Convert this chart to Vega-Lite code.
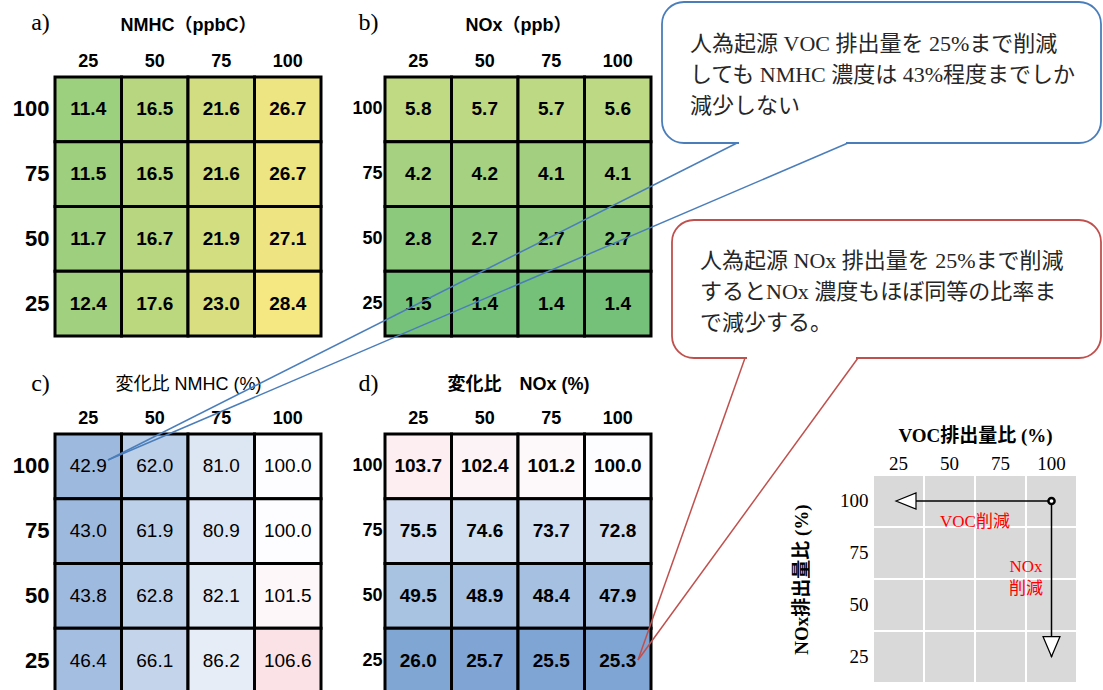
{
  "$schema": "https://vega.github.io/schema/vega-lite/v6.json",
  "background": "white",
  "padding": {"left": 12, "top": 1, "right": 0, "bottom": 0},
  "config": {
    "view": {"stroke": null},
    "axis": {"grid": false, "labelColor": "black", "titleColor": "black", "labelFont": "Liberation Sans, Noto Sans CJK JP", "titleFont": "Liberation Sans, Noto Sans CJK JP", "ticks": false, "tickSize": 0, "domain": false, "labelAngle": 0}
  },
  "datasets": {
    "cells": [
      {"panel": "a", "voc": 25, "nox": 100, "value": 11.4}, {"panel": "a", "voc": 50, "nox": 100, "value": 16.5}, {"panel": "a", "voc": 75, "nox": 100, "value": 21.6}, {"panel": "a", "voc": 100, "nox": 100, "value": 26.7},
      {"panel": "a", "voc": 25, "nox": 75, "value": 11.5}, {"panel": "a", "voc": 50, "nox": 75, "value": 16.5}, {"panel": "a", "voc": 75, "nox": 75, "value": 21.6}, {"panel": "a", "voc": 100, "nox": 75, "value": 26.7},
      {"panel": "a", "voc": 25, "nox": 50, "value": 11.7}, {"panel": "a", "voc": 50, "nox": 50, "value": 16.7}, {"panel": "a", "voc": 75, "nox": 50, "value": 21.9}, {"panel": "a", "voc": 100, "nox": 50, "value": 27.1},
      {"panel": "a", "voc": 25, "nox": 25, "value": 12.4}, {"panel": "a", "voc": 50, "nox": 25, "value": 17.6}, {"panel": "a", "voc": 75, "nox": 25, "value": 23.0}, {"panel": "a", "voc": 100, "nox": 25, "value": 28.4},
      {"panel": "b", "voc": 25, "nox": 100, "value": 5.8}, {"panel": "b", "voc": 50, "nox": 100, "value": 5.7}, {"panel": "b", "voc": 75, "nox": 100, "value": 5.7}, {"panel": "b", "voc": 100, "nox": 100, "value": 5.6},
      {"panel": "b", "voc": 25, "nox": 75, "value": 4.2}, {"panel": "b", "voc": 50, "nox": 75, "value": 4.2}, {"panel": "b", "voc": 75, "nox": 75, "value": 4.1}, {"panel": "b", "voc": 100, "nox": 75, "value": 4.1},
      {"panel": "b", "voc": 25, "nox": 50, "value": 2.8}, {"panel": "b", "voc": 50, "nox": 50, "value": 2.7}, {"panel": "b", "voc": 75, "nox": 50, "value": 2.7}, {"panel": "b", "voc": 100, "nox": 50, "value": 2.7},
      {"panel": "b", "voc": 25, "nox": 25, "value": 1.5}, {"panel": "b", "voc": 50, "nox": 25, "value": 1.4}, {"panel": "b", "voc": 75, "nox": 25, "value": 1.4}, {"panel": "b", "voc": 100, "nox": 25, "value": 1.4},
      {"panel": "c", "voc": 25, "nox": 100, "value": 42.9}, {"panel": "c", "voc": 50, "nox": 100, "value": 62.0}, {"panel": "c", "voc": 75, "nox": 100, "value": 81.0}, {"panel": "c", "voc": 100, "nox": 100, "value": 100.0},
      {"panel": "c", "voc": 25, "nox": 75, "value": 43.0}, {"panel": "c", "voc": 50, "nox": 75, "value": 61.9}, {"panel": "c", "voc": 75, "nox": 75, "value": 80.9}, {"panel": "c", "voc": 100, "nox": 75, "value": 100.0},
      {"panel": "c", "voc": 25, "nox": 50, "value": 43.8}, {"panel": "c", "voc": 50, "nox": 50, "value": 62.8}, {"panel": "c", "voc": 75, "nox": 50, "value": 82.1}, {"panel": "c", "voc": 100, "nox": 50, "value": 101.5},
      {"panel": "c", "voc": 25, "nox": 25, "value": 46.4}, {"panel": "c", "voc": 50, "nox": 25, "value": 66.1}, {"panel": "c", "voc": 75, "nox": 25, "value": 86.2}, {"panel": "c", "voc": 100, "nox": 25, "value": 106.6},
      {"panel": "d", "voc": 25, "nox": 100, "value": 103.7}, {"panel": "d", "voc": 50, "nox": 100, "value": 102.4}, {"panel": "d", "voc": 75, "nox": 100, "value": 101.2}, {"panel": "d", "voc": 100, "nox": 100, "value": 100.0},
      {"panel": "d", "voc": 25, "nox": 75, "value": 75.5}, {"panel": "d", "voc": 50, "nox": 75, "value": 74.6}, {"panel": "d", "voc": 75, "nox": 75, "value": 73.7}, {"panel": "d", "voc": 100, "nox": 75, "value": 72.8},
      {"panel": "d", "voc": 25, "nox": 50, "value": 49.5}, {"panel": "d", "voc": 50, "nox": 50, "value": 48.9}, {"panel": "d", "voc": 75, "nox": 50, "value": 48.4}, {"panel": "d", "voc": 100, "nox": 50, "value": 47.9},
      {"panel": "d", "voc": 25, "nox": 25, "value": 26.0}, {"panel": "d", "voc": 50, "nox": 25, "value": 25.7}, {"panel": "d", "voc": 75, "nox": 25, "value": 25.5}, {"panel": "d", "voc": 100, "nox": 25, "value": 25.3}
    ],
    "arrows": [
      {"name": "VOC", "voc": 100, "nox": 100, "voc2": 25, "nox2": 100},
      {"name": "NOx", "voc": 100, "nox": 100, "voc2": 100, "nox2": 25}
    ],
    "diagLabels": [
      {"label": "VOC削減", "voc": 75, "nox": 100},
      {"label": "NOx\n削減", "voc": 100, "nox": 75}
    ],
    "bubbles": [
      {"id": "voc", "x0": 662, "x1": 1101, "y0": 2, "y1": 143, "g0": 739, "g1": 846, "tx": 690, "ty": 34, "text": "人為起源 VOC 排出量を 25%まで削減\nしても NMHC 濃度は 43%程度までしか\n減少しない"},
      {"id": "nox", "x0": 672, "x1": 1101, "y0": 220, "y1": 358, "g0": 747, "g1": 856, "tx": 700, "ty": 251, "text": "人為起源 NOx 排出量を 25%まで削減\nするとNOx 濃度もほぼ同等の比率ま\nで減少する。"}
    ],
    "tails": [
      {"id": "voc", "xa": 737, "ya": 143, "xb": 108, "yb": 460},
      {"id": "voc", "xa": 848, "ya": 143, "xb": 108, "yb": 460},
      {"id": "nox", "xa": 745, "ya": 358, "xb": 638, "yb": 660},
      {"id": "nox", "xa": 858, "ya": 358, "xb": 638, "yb": 660}
    ]
  },
  "bounds": "flush",
  "align": "each",
  "columns": 3,
  "spacing": {"row": 98, "column": 64},
  "resolve": {"scale": {"fill": "independent", "stroke": "independent"}},
  "concat": [
    {
      "width": 266, "height": 259,
      "data": {"name": "cells"},
      "transform": [{"filter": {"field": "panel", "equal": "a"}}],
      "encoding": {
        "x": {"field": "voc", "type": "ordinal", "scale": {"paddingInner": 0, "paddingOuter": 0}, "axis": {"orient": "top", "title": "NMHC（ppbC）", "labelFontSize": 18, "labelFontWeight": "bold", "labelPadding": 7, "titleFontSize": 18, "titleFontWeight": "bold", "titlePadding": 18}},
        "y": {"field": "nox", "type": "ordinal", "sort": "descending", "scale": {"paddingInner": 0, "paddingOuter": 0}, "axis": {"title": "a)", "titleAngle": 0, "titleX": -15, "titleY": -55, "titleAlign": "center", "titleBaseline": "middle", "titleFont": "Liberation Serif", "titleFontSize": 24, "titleFontWeight": "normal", "labelFontSize": 22, "labelFontWeight": "bold", "labelPadding": 6}}
      },
      "layer": [
        {"mark": {"type": "rect", "stroke": "black", "strokeWidth": 3}, "encoding": {"fill": {"field": "value", "type": "quantitative", "scale": {"domain": [11.4, 28.4], "range": ["#9ccf7e", "#f5e782"], "interpolate": "rgb"}, "legend": null}}},
        {"mark": {"type": "text", "fontSize": 19, "fontWeight": "bold", "font": "Liberation Sans", "color": "black"}, "encoding": {"text": {"field": "value", "type": "quantitative", "format": ".1f"}}}
      ]
    },
    {
      "width": 424, "height": 259,
      "data": {"name": "cells"},
      "transform": [{"filter": {"field": "panel", "equal": "b"}}],
      "encoding": {
        "x": {"field": "voc", "type": "ordinal", "scale": {"paddingInner": 0, "paddingOuter": 0, "rangeMax": 266}, "axis": {"orient": "top", "title": "NOx（ppb）", "labelFontSize": 18, "labelFontWeight": "bold", "labelPadding": 7, "titleFontSize": 18, "titleFontWeight": "bold", "titlePadding": 18}},
        "y": {"field": "nox", "type": "ordinal", "sort": "descending", "scale": {"paddingInner": 0, "paddingOuter": 0}, "axis": {"title": "b)", "titleAngle": 0, "titleX": -17, "titleY": -55, "titleAlign": "center", "titleBaseline": "middle", "titleFont": "Liberation Serif", "titleFontSize": 24, "titleFontWeight": "normal", "labelFontSize": 18, "labelFontWeight": "bold", "labelPadding": 3}}
      },
      "layer": [
        {"mark": {"type": "rect", "stroke": "black", "strokeWidth": 3}, "encoding": {"fill": {"field": "value", "type": "quantitative", "scale": {"domain": [1.4, 5.8], "range": ["#75c17a", "#c0da84"], "interpolate": "rgb"}, "legend": null}}},
        {"mark": {"type": "text", "fontSize": 19, "fontWeight": "bold", "font": "Liberation Sans", "color": "black"}, "encoding": {"text": {"field": "value", "type": "quantitative", "format": ".1f"}}}
      ]
    },
    {
      "width": 204, "height": 259,
      "data": {"values": []},
      "mark": {"type": "point", "opacity": 0}
    },
    {
      "width": 266, "height": 259,
      "data": {"name": "cells"},
      "transform": [{"filter": {"field": "panel", "equal": "c"}}],
      "encoding": {
        "x": {"field": "voc", "type": "ordinal", "scale": {"paddingInner": 0, "paddingOuter": 0}, "axis": {"orient": "top", "title": "変化比 NMHC (%)", "labelFontSize": 18, "labelFontWeight": "bold", "labelPadding": 7, "titleFontSize": 18, "titleFontWeight": "normal", "titlePadding": 16}},
        "y": {"field": "nox", "type": "ordinal", "sort": "descending", "scale": {"paddingInner": 0, "paddingOuter": 0}, "axis": {"title": "c)", "titleAngle": 0, "titleX": -15, "titleY": -51, "titleAlign": "center", "titleBaseline": "middle", "titleFont": "Liberation Serif", "titleFontSize": 24, "titleFontWeight": "normal", "labelFontSize": 22, "labelFontWeight": "bold", "labelPadding": 6}}
      },
      "layer": [
        {"mark": {"type": "rect", "stroke": "black", "strokeWidth": 3}, "encoding": {"fill": {"field": "value", "type": "quantitative", "scale": {"domain": [25.3, 100, 106.6], "range": ["#7fa5d4", "#fdfdff", "#fbe2e6"], "interpolate": "rgb"}, "legend": null}}},
        {"mark": {"type": "text", "fontSize": 19, "fontWeight": "normal", "font": "Liberation Sans", "color": "black"}, "encoding": {"text": {"field": "value", "type": "quantitative", "format": ".1f"}}}
      ]
    },
    {
      "width": 424, "height": 259,
      "data": {"name": "cells"},
      "transform": [{"filter": {"field": "panel", "equal": "d"}}],
      "encoding": {
        "x": {"field": "voc", "type": "ordinal", "scale": {"paddingInner": 0, "paddingOuter": 0, "rangeMax": 266}, "axis": {"orient": "top", "title": "変化比　NOx (%)", "labelFontSize": 18, "labelFontWeight": "bold", "labelPadding": 7, "titleFontSize": 18, "titleFontWeight": "bold", "titlePadding": 16}},
        "y": {"field": "nox", "type": "ordinal", "sort": "descending", "scale": {"paddingInner": 0, "paddingOuter": 0}, "axis": {"title": "d)", "titleAngle": 0, "titleX": -17, "titleY": -51, "titleAlign": "center", "titleBaseline": "middle", "titleFont": "Liberation Serif", "titleFontSize": 24, "titleFontWeight": "normal", "labelFontSize": 18, "labelFontWeight": "bold", "labelPadding": 3}}
      },
      "layer": [
        {"mark": {"type": "rect", "stroke": "black", "strokeWidth": 3}, "encoding": {"fill": {"field": "value", "type": "quantitative", "scale": {"domain": [25.3, 100, 106.6], "range": ["#7fa5d4", "#fdfdff", "#fbe2e6"], "interpolate": "rgb"}, "legend": null}}},
        {"mark": {"type": "text", "fontSize": 19, "fontWeight": "bold", "font": "Liberation Sans", "color": "black"}, "encoding": {"text": {"field": "value", "type": "quantitative", "format": ".1f"}}}
      ]
    },
    {
      "width": 204, "height": 249,
      "resolve": {"scale": {"x": "independent", "y": "independent"}, "axis": {"x": "independent", "y": "independent"}},
      "layer": [
        {
          "encoding": {
            "x": {"field": "voc", "type": "ordinal", "scale": {"domain": [25, 50, 75, 100], "paddingInner": 0, "paddingOuter": 0}, "axis": {"orient": "top", "offset": -41, "title": "VOC排出量比 (%)", "labelFont": "Liberation Serif", "labelFontSize": 19, "labelPadding": 2, "titleFont": "Liberation Serif, Noto Sans CJK JP", "titleFontSize": 19, "titleFontWeight": "bold", "titlePadding": 9}},
            "y": {"field": "nox", "type": "ordinal", "scale": {"domain": [100, 75, 50, 25], "paddingInner": 0, "paddingOuter": 0, "rangeMin": 41}, "axis": {"orient": "left", "title": "NOx排出量比 (%)", "labelFont": "Liberation Serif", "labelFontSize": 19, "labelPadding": 5, "titleFont": "Liberation Serif, Noto Sans CJK JP", "titleFontSize": 19, "titleFontWeight": "bold", "titlePadding": 28}}
          },
          "layer": [
            {
              "data": {"name": "cells"},
              "transform": [{"filter": {"field": "panel", "equal": "a"}}],
              "mark": {"type": "rect", "fill": "#d9d9d9", "stroke": "white", "strokeWidth": 2}
            },
            {
              "data": {"name": "arrows"},
              "mark": {"type": "rule", "color": "black", "strokeWidth": 1.5},
              "encoding": {"x2": {"field": "voc2"}, "y2": {"field": "nox2"}}
            },
            {
              "data": {"name": "arrows"},
              "transform": [{"filter": {"field": "name", "equal": "VOC"}}],
              "mark": {"type": "point", "shape": "M -1 0 L 1 -0.8 L 1 0.8 Z", "size": 400, "filled": true, "fill": "white", "stroke": "black", "strokeWidth": 1.2, "opacity": 1},
              "encoding": {"x": {"field": "voc2", "type": "ordinal", "bandPosition": 0.647}, "y": {"field": "nox2", "type": "ordinal"}}
            },
            {
              "data": {"name": "arrows"},
              "transform": [{"filter": {"field": "name", "equal": "NOx"}}],
              "mark": {"type": "point", "shape": "M 0 1 L -0.85 -1 L 0.85 -1 Z", "size": 400, "filled": true, "fill": "white", "stroke": "black", "strokeWidth": 1.2, "opacity": 1},
              "encoding": {"x": {"field": "voc2", "type": "ordinal"}, "y": {"field": "nox2", "type": "ordinal", "bandPosition": 0.3}}
            },
            {
              "data": {"name": "arrows"},
              "transform": [{"filter": {"field": "name", "equal": "VOC"}}],
              "mark": {"type": "point", "shape": "circle", "size": 38, "filled": true, "fill": "white", "stroke": "black", "strokeWidth": 2.5, "opacity": 1}
            },
            {
              "data": {"name": "diagLabels"},
              "transform": [{"filter": {"field": "voc", "equal": 75}}],
              "mark": {"type": "text", "align": "center", "baseline": "alphabetic", "font": "Liberation Serif, Noto Sans CJK JP", "fontSize": 17, "color": "#ff0000"},
              "encoding": {"x": {"field": "voc", "type": "ordinal", "bandPosition": 0}, "y": {"field": "nox", "type": "ordinal", "bandPosition": 1}, "text": {"field": "label", "type": "nominal"}}
            },
            {
              "data": {"name": "diagLabels"},
              "transform": [{"filter": {"field": "voc", "equal": 100}}],
              "mark": {"type": "text", "align": "center", "baseline": "top", "lineBreak": "\n", "lineHeight": 22, "font": "Liberation Serif, Noto Sans CJK JP", "fontSize": 17, "color": "#ff0000"},
              "encoding": {"x": {"field": "voc", "type": "ordinal", "bandPosition": 0}, "y": {"field": "nox", "type": "ordinal", "bandPosition": 0.62}, "text": {"field": "label", "type": "nominal"}}
            }
          ]
        },
        {
          "encoding": {
            "x": {"field": "x0", "type": "quantitative", "scale": {"domain": [873, 1077], "zero": false, "nice": false}, "axis": null},
            "y": {"field": "y0", "type": "quantitative", "scale": {"domain": [434, 683], "reverse": true, "zero": false, "nice": false}, "axis": null}
          },
          "layer": [
            {
              "data": {"name": "bubbles"},
              "mark": {"type": "rect", "fill": "white", "strokeWidth": 1.8, "cornerRadius": 22},
              "encoding": {
                "x2": {"field": "x1"},
                "y2": {"field": "y1"},
                "stroke": {"field": "id", "type": "nominal", "scale": {"domain": ["voc", "nox"], "range": ["#4a7ebb", "#c0504d"]}, "legend": null}
              }
            },
            {
              "data": {"name": "bubbles"},
              "mark": {"type": "rule", "color": "white", "strokeWidth": 4},
              "encoding": {
                "x": {"field": "g0", "type": "quantitative"},
                "x2": {"field": "g1"},
                "y": {"field": "y1", "type": "quantitative"}
              }
            },
            {
              "data": {"name": "tails"},
              "mark": {"type": "rule", "strokeWidth": 1.5},
              "encoding": {
                "x": {"field": "xa", "type": "quantitative"},
                "x2": {"field": "xb"},
                "y": {"field": "ya", "type": "quantitative"},
                "y2": {"field": "yb"},
                "stroke": {"field": "id", "type": "nominal", "scale": {"domain": ["voc", "nox"], "range": ["#4a7ebb", "#c0504d"]}, "legend": null}
              }
            },
            {
              "data": {"name": "bubbles"},
              "mark": {"type": "text", "align": "left", "baseline": "top", "lineBreak": "\n", "lineHeight": 31, "font": "Liberation Serif, Noto Sans CJK JP", "fontSize": 22, "color": "#262626"},
              "encoding": {
                "x": {"field": "tx", "type": "quantitative"},
                "y": {"field": "ty", "type": "quantitative"},
                "text": {"field": "text", "type": "nominal"}
              }
            }
          ]
        }
      ]
    }
  ]
}
